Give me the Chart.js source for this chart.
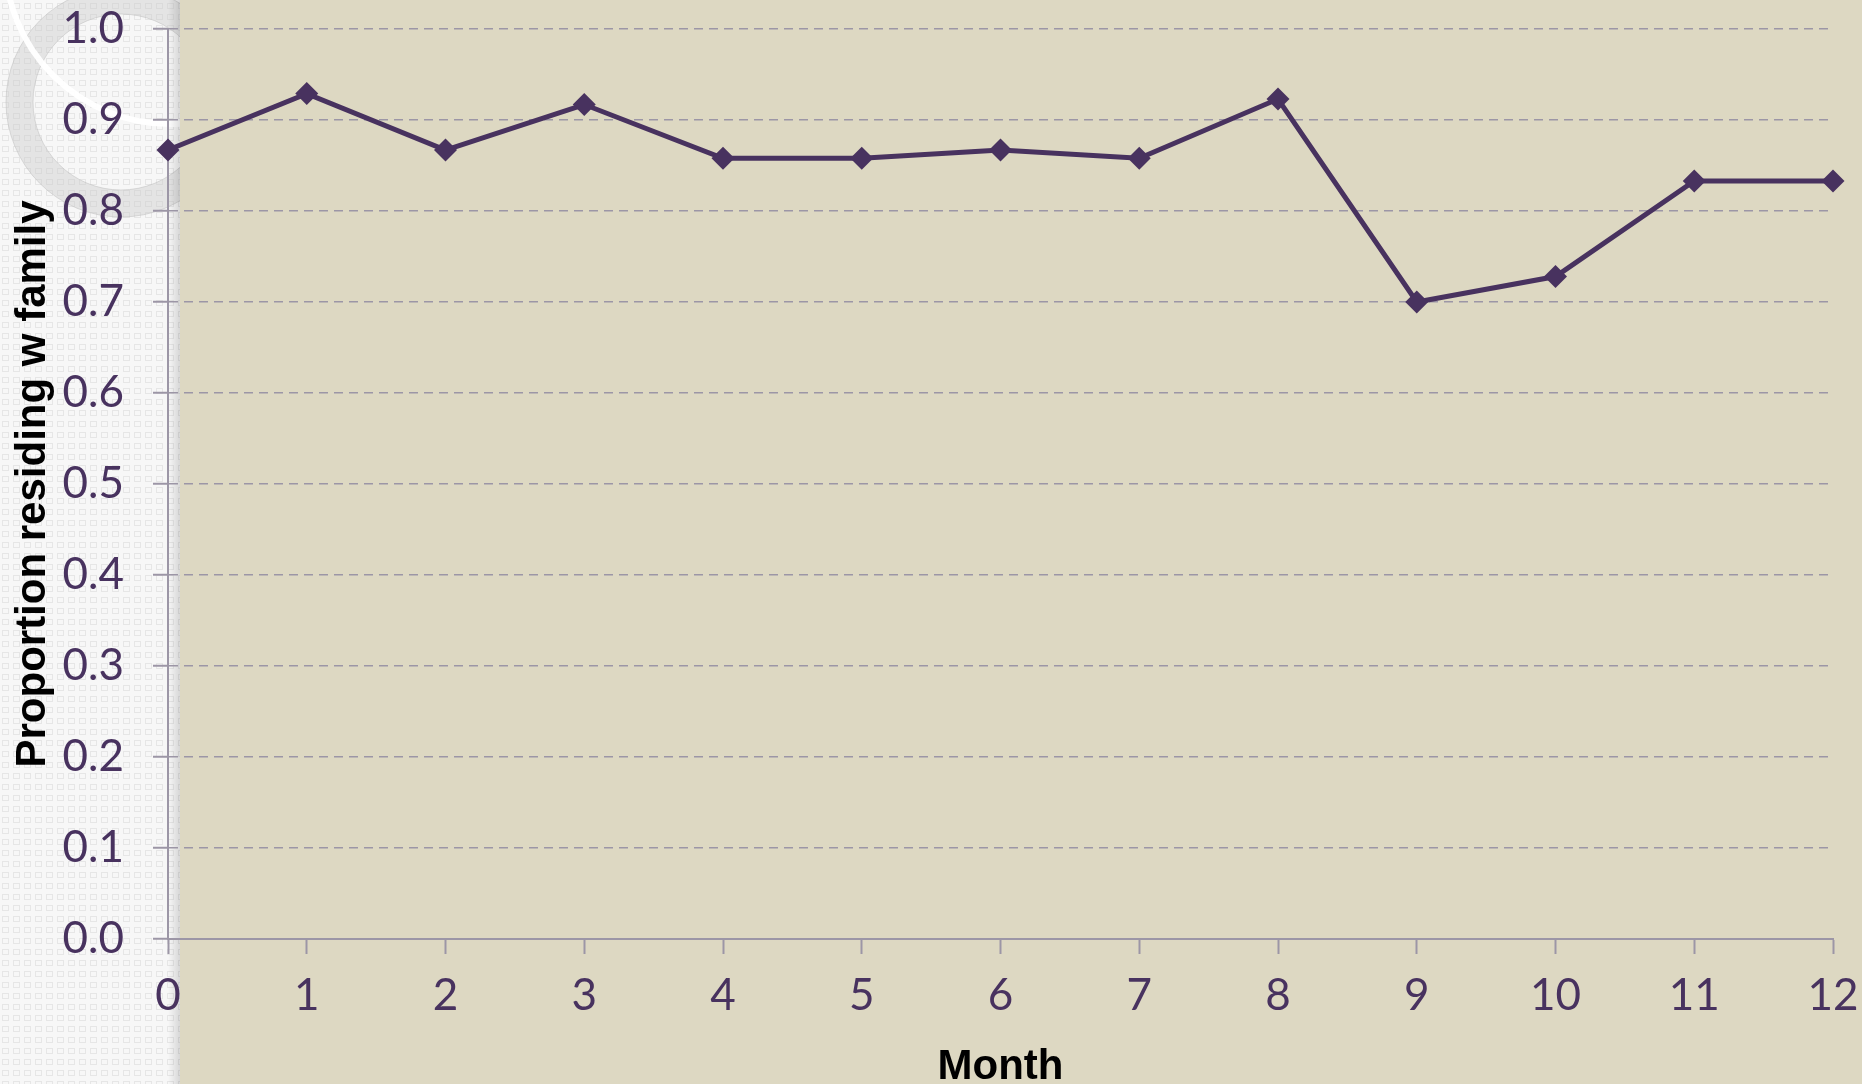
<!DOCTYPE html>
<html>
<head>
<meta charset="utf-8">
<script src="https://cdn.jsdelivr.net/npm/chart.js@4.4.1/dist/chart.umd.min.js"></script>
<style>
  html, body { margin: 0; padding: 0; background: #f4f4f4; }
  #wrap { width: 1862px; height: 1084px; }
</style>
</head>
<body>
<div id="wrap"><canvas id="myChart" width="1862" height="1084"></canvas></div>
<script>
// chart data
const months = ["0", "1", "2", "3", "4", "5", "6", "7", "8", "9", "10", "11", "12"];
const residingWithFamily = [0.867, 0.929, 0.867, 0.917, 0.858, 0.858, 0.867, 0.858, 0.923, 0.700, 0.728, 0.833, 0.833];
const yTicks = [0, 0.1, 0.2, 0.3, 0.4, 0.5, 0.6, 0.7, 0.8, 0.9, 1.0];

const purple = "#48325f";
const axisGrey = "#9c96a6";

// little tiled pattern for the left panel
function makePattern(ctx) {
  const c = document.createElement("canvas");
  c.width = 11; c.height = 11;
  const p = c.getContext("2d");
  p.fillStyle = "#f7f7f7";
  p.fillRect(0, 0, 11, 11);
  p.strokeStyle = "#e6e6e6";
  p.lineWidth = 1;
  p.strokeRect(2.5, 3.5, 6, 5);
  return ctx.createPattern(c, "repeat");
}

const backdrop = {
  id: "backdrop",
  beforeDraw(chart) {
    const {ctx, width, height, chartArea} = chart;
    const edge = chartArea.left + 12;
    ctx.save();
    ctx.fillStyle = makePattern(ctx);
    ctx.fillRect(0, 0, edge, height);

    // decorative rings top-left
    ctx.save();
    ctx.beginPath();
    ctx.rect(0, 0, edge, height);
    ctx.clip();
    ctx.beginPath();
    ctx.arc(121, 102, 115, 0, Math.PI * 2);
    ctx.arc(121, 102, 88, 0, Math.PI * 2, true);
    ctx.fillStyle = "rgba(205,205,205,0.45)";
    ctx.fill();
    ctx.strokeStyle = "rgba(190,190,190,0.5)";
    ctx.lineWidth = 1;
    ctx.stroke();
    ctx.beginPath();
    ctx.arc(170, -41, 165, 0, Math.PI * 2);
    ctx.strokeStyle = "rgba(255,255,255,0.95)";
    ctx.lineWidth = 6;
    ctx.stroke();
    ctx.restore();

    // shadow toward the beige panel
    const g = ctx.createLinearGradient(edge - 12, 0, edge, 0);
    g.addColorStop(0, "rgba(0,0,0,0)");
    g.addColorStop(1, "rgba(0,0,0,0.13)");
    ctx.fillStyle = g;
    ctx.fillRect(edge - 12, 0, 12, height);

    ctx.fillStyle = "#ddd8c2";
    ctx.fillRect(edge, 0, width - edge, height);
    ctx.restore();
  }
};

const ctx = document.getElementById("myChart");
new Chart(ctx, {
  type: "line",
  data: {
    labels: months,
    datasets: [
      {
        label: "Proportion residing w family",
        data: residingWithFamily,
        borderColor: purple,
        backgroundColor: purple,
        borderWidth: 5,
        tension: 0,
        pointStyle: "rectRot",
        pointRadius: 11.5,
        pointBorderWidth: 0,
        clip: false
      }
    ]
  },
  options: {
    responsive: false,
    animation: false,
    devicePixelRatio: 1,
    layout: {
      padding: { top: 29, right: 29, left: 0, bottom: 0 }
    },
    plugins: {
      legend: { display: false },
      tooltip: { enabled: false }
    },
    scales: {
      x: {
        offset: false,
        afterFit: (scale) => {
          scale.height = 145;
          scale.paddingLeft = 0;
          scale.paddingRight = 0;
        },
        grid: {
          drawOnChartArea: false,
          drawTicks: true,
          tickLength: 15,
          tickColor: axisGrey,
          tickWidth: 2
        },
        border: { color: axisGrey, width: 2 },
        ticks: {
          color: purple,
          padding: 15,
          maxRotation: 0,
          autoSkip: false,
          font: { family: "Lato", size: 44 }
        },
        title: {
          display: true,
          text: "Month",
          color: "#000",
          padding: { top: 0, bottom: -4 },
          font: { family: "Liberation Sans", size: 42, weight: "bold", lineHeight: 1 }
        }
      },
      y: {
        min: 0,
        max: 1,
        afterFit: (scale) => {
          scale.width = 168;
          scale.paddingTop = 0;
          scale.paddingBottom = 0;
        },
        afterBuildTicks: (scale) => {
          scale.ticks = yTicks.map(v => ({ value: v }));
        },
        grid: {
          color: axisGrey,
          lineWidth: 1.5,
          tickLength: 15,
          tickColor: axisGrey,
          tickWidth: 2
        },
        border: { color: axisGrey, width: 2, dash: [9, 6] },
        ticks: {
          color: purple,
          padding: 29,
          font: { family: "Lato", size: 44 },
          callback: (v) => Number(v).toFixed(1)
        },
        title: {
          display: true,
          text: "Proportion residing w family",
          color: "#000",
          padding: { top: 8, bottom: 0 },
          font: { family: "Liberation Sans", size: 42, weight: "bold" }
        }
      }
    }
  },
  plugins: [backdrop]
});
</script>
</body>
</html>
